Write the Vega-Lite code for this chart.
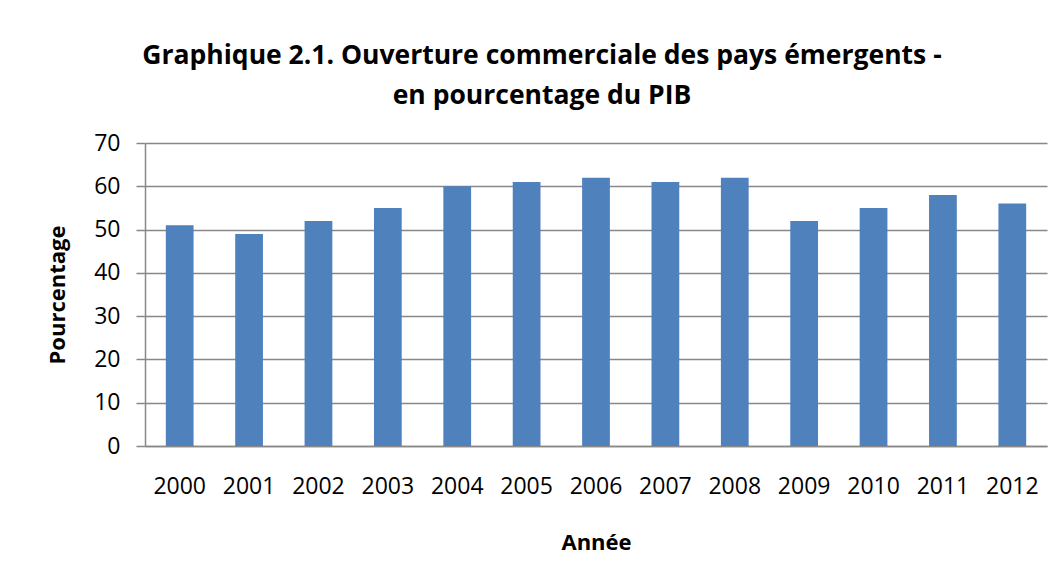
{
  "$schema": "https://vega.github.io/schema/vega-lite/v6.json",
  "autosize": {"type": "none"},
  "width": 902,
  "height": 303,
  "padding": {"left": 145, "top": 143, "right": 15, "bottom": 134},
  "background": "white",
  "config": {"view": {"stroke": null}, "font": "Open Sans"},
  "title": {
    "text": ["Graphique 2.1. Ouverture commerciale des pays émergents -", "en pourcentage du PIB"],
    "anchor": "middle",
    "frame": "group",
    "dx": -54,
    "offset": 23,
    "fontSize": 26.5,
    "fontWeight": "bold",
    "font": "Open Sans",
    "lineHeight": 40,
    "color": "#000000"
  },
  "data": {
    "values": [
      {"annee": "2000", "pct": 51},
      {"annee": "2001", "pct": 49},
      {"annee": "2002", "pct": 52},
      {"annee": "2003", "pct": 55},
      {"annee": "2004", "pct": 60},
      {"annee": "2005", "pct": 61},
      {"annee": "2006", "pct": 62},
      {"annee": "2007", "pct": 61},
      {"annee": "2008", "pct": 62},
      {"annee": "2009", "pct": 52},
      {"annee": "2010", "pct": 55},
      {"annee": "2011", "pct": 58},
      {"annee": "2012", "pct": 56}
    ]
  },
  "mark": {"type": "bar", "color": "#4F81BD"},
  "encoding": {
    "x": {
      "field": "annee",
      "type": "nominal",
      "scale": {"paddingInner": 0.6, "paddingOuter": 0.3},
      "axis": {
        "title": "Année",
        "titleFont": "Open Sans",
        "titleFontSize": 22,
        "titleFontWeight": "bold",
        "titleColor": "#000000",
        "titlePadding": 34,
        "labelAngle": 0,
        "labelFont": "Open Sans",
        "labelFontSize": 23,
        "labelColor": "#000000",
        "labelPadding": 29,
        "ticks": false,
        "domainColor": "#888888",
        "domainWidth": 1.5
      }
    },
    "y": {
      "field": "pct",
      "type": "quantitative",
      "scale": {"domain": [0, 70], "nice": false},
      "axis": {
        "title": "Pourcentage",
        "titleFont": "Open Sans",
        "titleFontSize": 22,
        "titleFontWeight": "bold",
        "titleColor": "#000000",
        "titlePadding": 24,
        "values": [0, 10, 20, 30, 40, 50, 60, 70],
        "labelFont": "Open Sans",
        "labelFontSize": 23,
        "labelColor": "#000000",
        "labelPadding": 16,
        "tickSize": 9,
        "tickColor": "#888888",
        "tickWidth": 1.5,
        "domainColor": "#888888",
        "domainWidth": 1.5,
        "gridColor": "#888888",
        "gridWidth": 1.5
      }
    }
  }
}
